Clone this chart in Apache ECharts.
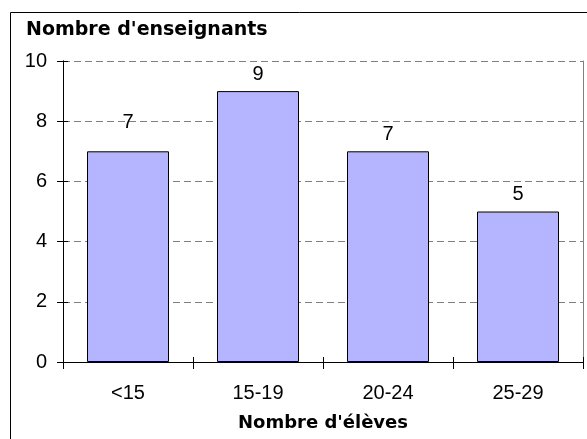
<!DOCTYPE html>
<html>
<head>
<meta charset="utf-8">
<script src="https://cdn.jsdelivr.net/npm/echarts@6/dist/echarts.min.js"></script>
<style>
html,body{margin:0;padding:0;background:#fff;}
#c{width:587px;height:439px;}
</style>
</head>
<body>
<div id="c"></div>
<script>
var categories = ['<15', '15-19', '20-24', '25-29'];
var teachers = [7, 9, 7, 5];
var yTitle = "Nombre d'enseignants";
var xTitle = "Nombre d'élèves";

var chart = echarts.init(document.getElementById('c'), null, {renderer: 'canvas'});
var tickFont = {fontFamily: "'Liberation Sans', Arial, sans-serif", fontSize: 20, color: '#000'};
var yBase = {type: 'value', min: 0, max: 10, interval: 2};

var option = {
  animation: false,
  backgroundColor: '#fff',
  title: {
    text: yTitle, left: 21, top: 16,
    textStyle: {fontFamily: 'DejaVu Sans', fontWeight: 'bold', fontSize: 19, color: '#000'}
  },
  graphic: [{
    type: 'rect', shape: {x: 10.5, y: 12.5, width: 620, height: 460},
    style: {fill: 'none', stroke: '#000', lineWidth: 1}, z: 100, silent: true
  }],
  grid: {left: 63, top: 61, right: 4, bottom: 77, containLabel: false},
  xAxis: [{
    type: 'category', data: categories, position: 'bottom',
    axisLine: {lineStyle: {color: '#000', width: 1}},
    axisTick: {show: true, length: 7, lineStyle: {color: '#000'}},
    axisLabel: Object.assign({margin: 21}, tickFont),
    name: xTitle, nameLocation: 'middle', nameGap: 52,
    nameTextStyle: {fontFamily: 'DejaVu Sans', fontWeight: 'bold', fontSize: 18, color: '#000'}
  }, {
    type: 'category', data: categories, position: 'bottom',
    axisLine: {show: true, lineStyle: {color: '#000', width: 1}},
    axisTick: {show: true, inside: true, length: 5, lineStyle: {color: '#000'}},
    axisLabel: {show: false}
  }],
  yAxis: [Object.assign({}, yBase, {
    position: 'left',
    axisLine: {show: true, lineStyle: {color: '#000', width: 1}},
    axisTick: {show: true, length: 6, lineStyle: {color: '#000'}},
    axisLabel: Object.assign({margin: 16}, tickFont),
    splitLine: {show: true, lineStyle: {color: '#808080', type: [7, 4], width: 1}}
  }), Object.assign({}, yBase, {
    position: 'left',
    axisLine: {show: true, lineStyle: {color: '#000', width: 1}},
    axisTick: {show: true, inside: true, length: 5, lineStyle: {color: '#000'}},
    axisLabel: {show: false}, splitLine: {show: false}
  }), Object.assign({}, yBase, {
    position: 'right',
    axisLine: {show: true, lineStyle: {color: '#808080', width: 1}},
    axisTick: {show: false}, axisLabel: {show: false}, splitLine: {show: false}
  })],
  series: [{
    type: 'bar', xAxisIndex: 0, yAxisIndex: 0,
    data: teachers.map(function (v, i) {
      return i === 0 ? {value: v, label: {offset: [0, -12]}} : v;
    }),
    barWidth: 82,
    itemStyle: {color: '#b4b4ff', borderColor: '#000', borderWidth: 1},
    label: Object.assign({show: true, position: 'top', distance: 7}, tickFont),
    z: 3
  }]
};
chart.setOption(option);
</script>
</body>
</html>
